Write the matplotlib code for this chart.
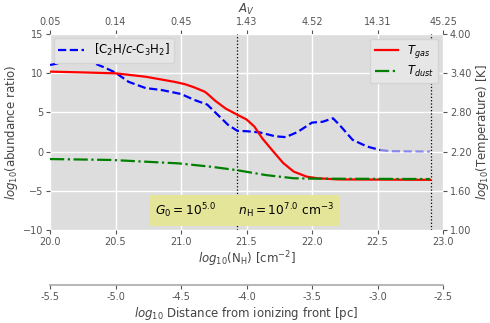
import matplotlib
matplotlib.use("Agg")
import matplotlib.pyplot as plt
import numpy as np

# ---- data ----
nh_blue = [20.0, 20.11, 20.24, 20.34, 20.42, 20.5, 20.6, 20.73, 20.85, 21.0, 21.1, 21.2,
           21.28, 21.36, 21.43, 21.5, 21.6, 21.72, 21.8, 21.89, 22.0, 22.08, 22.16, 22.21,
           22.31, 22.42, 22.52]
ratio_blue = [11.05, 11.4, 11.7, 11.25, 10.7, 10.07, 8.9, 8.1, 7.86, 7.35, 6.6, 6.0,
              4.7, 3.4, 2.65, 2.6, 2.45, 1.95, 1.85, 2.5, 3.7, 3.8, 4.25, 3.4,
              1.5, 0.65, 0.2]
nh_blue_faint = [22.52, 22.6, 22.9]
ratio_blue_faint = [0.2, 0.05, 0.0]

nh_gas = [20.0, 20.25, 20.5, 20.73, 20.95, 21.03, 21.1, 21.18, 21.2, 21.26, 21.34, 21.43,
          21.5, 21.56, 21.62, 21.7, 21.78, 21.86, 21.96, 22.04, 22.2, 22.9]
t_gas = [3.424, 3.412, 3.398, 3.346, 3.268, 3.232, 3.184, 3.118, 3.088, 2.98, 2.86, 2.764,
         2.692, 2.584, 2.404, 2.212, 2.026, 1.894, 1.816, 1.792, 1.774, 1.768]

nh_dust = [20.0, 20.47, 20.98, 21.23, 21.42, 21.65, 21.86, 22.0, 22.9]
t_dust = [2.086, 2.072, 2.02, 1.968, 1.918, 1.84, 1.792, 1.786, 1.78]

vlines = [21.43, 22.91]
xticks = [20.0, 20.5, 21.0, 21.5, 22.0, 22.5, 23.0]
av_labels = ["0.05", "0.14", "0.45", "1.43", "4.52", "14.31", "45.25"]
dist_ticks = [-5.5, -5.0, -4.5, -4.0, -3.5, -3.0, -2.5]
left_ticks = [-10, -5, 0, 5, 10, 15]
right_ticks = [1.0, 1.6, 2.2, 2.8, 3.4, 4.0]

tick_c = "#555555"
lab_c = "#444444"

fig = plt.figure(figsize=(4.9, 3.23), dpi=100)
ax = fig.add_axes([50/490, 1-230/323, 393/490, 196/323])
ax.set_facecolor("#dddddd")
for s in ax.spines.values():
    s.set_visible(False)
ax.grid(True, color="white", lw=1.0)
ax.set_axisbelow(True)
ax.set_xlim(20, 23)
ax.set_ylim(-10, 15)
ax.set_xticks(xticks)
ax.set_xticklabels([f"{v:.1f}" for v in xticks])
ax.set_yticks(left_ticks)
ax.tick_params(colors=tick_c, labelsize=7, length=3, width=0.8, pad=2)

l1, = ax.plot(nh_blue, ratio_blue, color="blue", ls="--", lw=1.6,
              label=r"[C$_2$H/$c$-C$_3$H$_2$]")
ax.plot(nh_blue_faint, ratio_blue_faint, color="blue", ls="--", lw=1.6, alpha=0.4)
for v in vlines:
    ax.axvline(v, color="black", ls=":", lw=0.9)

ax.set_xlabel(r"$log_{10}$(N$_{\rm H}$) [cm$^{-2}$]", fontsize=8.5, color=lab_c, labelpad=2)
ax.set_ylabel(r"$log_{10}$(abundance ratio)", fontsize=8.5, color=lab_c, labelpad=2)

leg1 = ax.legend(handles=[l1], loc="upper left", fontsize=8.5, facecolor="#e6e6e6",
                 edgecolor="#d4d4d4", framealpha=1.0, borderaxespad=0.3, handlelength=2.2)

ax.text((155-50)/393, (230-210.5)/196,
        r"$G_0 = 10^{5.0}$      $n_{\rm H} = 10^{7.0}$ cm$^{-3}$",
        transform=ax.transAxes, fontsize=8.8, ha="left", va="center", color="black",
        bbox=dict(boxstyle="square,pad=0.5", facecolor="#e5e59a", edgecolor="none"))

# right axis
ax2 = ax.twinx()
for s in ax2.spines.values():
    s.set_visible(False)
ax2.set_ylim(1.0, 4.0)
ax2.set_yticks(right_ticks)
ax2.set_yticklabels([f"{v:.2f}" for v in right_ticks])
ax2.tick_params(colors=tick_c, labelsize=7, length=3, width=0.8, pad=2)
ax2.grid(False)
l2, = ax2.plot(nh_gas, t_gas, color="red", lw=1.6, label=r"$T_{gas}$")
l3, = ax2.plot(nh_dust, t_dust, color="green", ls="-.", lw=1.6, label=r"$T_{dust}$")
ax2.set_ylabel(r"$log_{10}$(Temperature) [K]", fontsize=8.5, color=lab_c, labelpad=2)
ax2.legend(handles=[l2, l3], loc="upper right", fontsize=8.3, facecolor="#e6e6e6",
           edgecolor="#d4d4d4", framealpha=1.0, borderaxespad=0.4, handlelength=2.0,
           labelspacing=0.3)

# top axis (A_V)
top = ax.secondary_xaxis("top")
top.set_xticks(xticks)
top.set_xticklabels(av_labels)
top.spines["top"].set_visible(False)
top.tick_params(colors=tick_c, labelsize=7, length=3, width=0.8, pad=2)
top.set_xlabel(r"$A_V$", fontsize=8.5, color=lab_c, labelpad=3)

# bottom secondary (distance)
bot = ax.secondary_xaxis(-0.28, functions=(lambda x: x - 25.5, lambda x: x + 25.5))
bot.set_xticks(dist_ticks)
bot.set_xticklabels([f"{v:.1f}" for v in dist_ticks])
bot.spines["bottom"].set_color("#aaaaaa")
bot.spines["bottom"].set_linewidth(1.2)
bot.tick_params(colors=tick_c, labelsize=7, length=3, width=0.8, pad=2)
bot.set_xlabel(r"$log_{10}$ Distance from ionizing front [pc]", fontsize=8.5,
               color=lab_c, labelpad=2)

fig.savefig("out.png", dpi=100)
